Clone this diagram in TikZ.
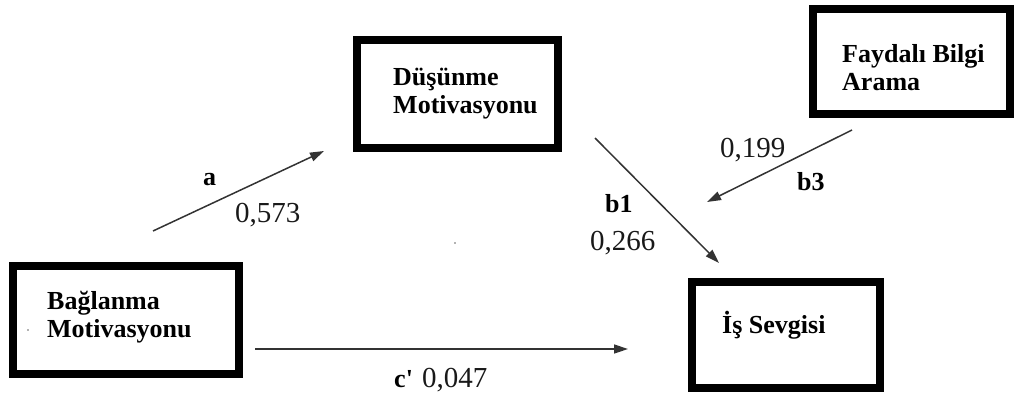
\documentclass[tikz,border=0pt]{standalone}
\usepackage{fontspec}
\setmainfont{Liberation Serif}
\usetikzlibrary{arrows.meta}
\begin{document}
\begin{tikzpicture}[x=1pt,y=-1pt,
  box/.style={draw=black,line width=8pt,minimum width=#1,inner sep=0pt,outer sep=0pt},
  boxtext/.style={font=\fontsize{26}{28}\selectfont\bfseries,align=left,anchor=base west,inner sep=0pt},
  num/.style={font=\fontsize{29}{30}\selectfont,anchor=base west,inner sep=0pt,text=black!90},
  lbl/.style={font=\fontsize{26}{28}\selectfont\bfseries,anchor=base west,inner sep=0pt},
  conn/.style={draw=black!80,line width=1.5pt,-{Triangle[length=14pt,width=9pt]}}]
\useasboundingbox (0,0) rectangle (1016,399);
% boxes
\node[box=226pt,minimum height=108pt] (bag) at (126,320) {};
\node[box=201pt,minimum height=108pt] (dus) at (457.5,94) {};
\node[box=197pt,minimum height=105pt] (fay) at (911.5,61.5) {};
\node[box=188pt,minimum height=106pt] (is) at (786,335) {};
% box texts (base = last line baseline)
\node[boxtext] (bagt) at (47,337) {Bağlanma\\Motivasyonu};
\node[boxtext] (dust) at (393,113) {Düşünme\\Motivasyonu};
\node[boxtext] (fayt) at (842,90) {Faydalı Bilgi\\Arama};
\node[boxtext] (ist) at (722,333) {İş Sevgisi};
% connector ends
\coordinate (aS) at (153,231);
\coordinate (aE) at (324,151);
\coordinate (b1S) at (595,138);
\coordinate (b1E) at (719,263);
\coordinate (b3S) at (852,130);
\coordinate (b3E) at (707,202);
\coordinate (cS) at (255,349);
\coordinate (cE) at (628,349);
\draw[conn] (aS) -- (aE);
\draw[conn] (b1S) -- (b1E);
\draw[conn] (b3S) -- (b3E);
\draw[conn] (cS) -- (cE);
% labels
\node[lbl] (la) at (203,185) {a};
\node[num] (na) at (235,222) {0,573};
\node[lbl] (lb1) at (605,212) {b1};
\node[num] (nb1) at (590,250) {0,266};
\node[num] (nb3) at (720,157) {0,199};
\node[lbl] (lb3) at (797,190) {b3};
\node[lbl] (lc) at (394,387) {c\textquotesingle};
\node[num] (nc) at (422,387) {0,047};
% stray dots
\fill[black!60] (455,243) circle (0.9pt);
\fill[black!60] (28,330) circle (0.9pt);
\end{tikzpicture}
\end{document}
